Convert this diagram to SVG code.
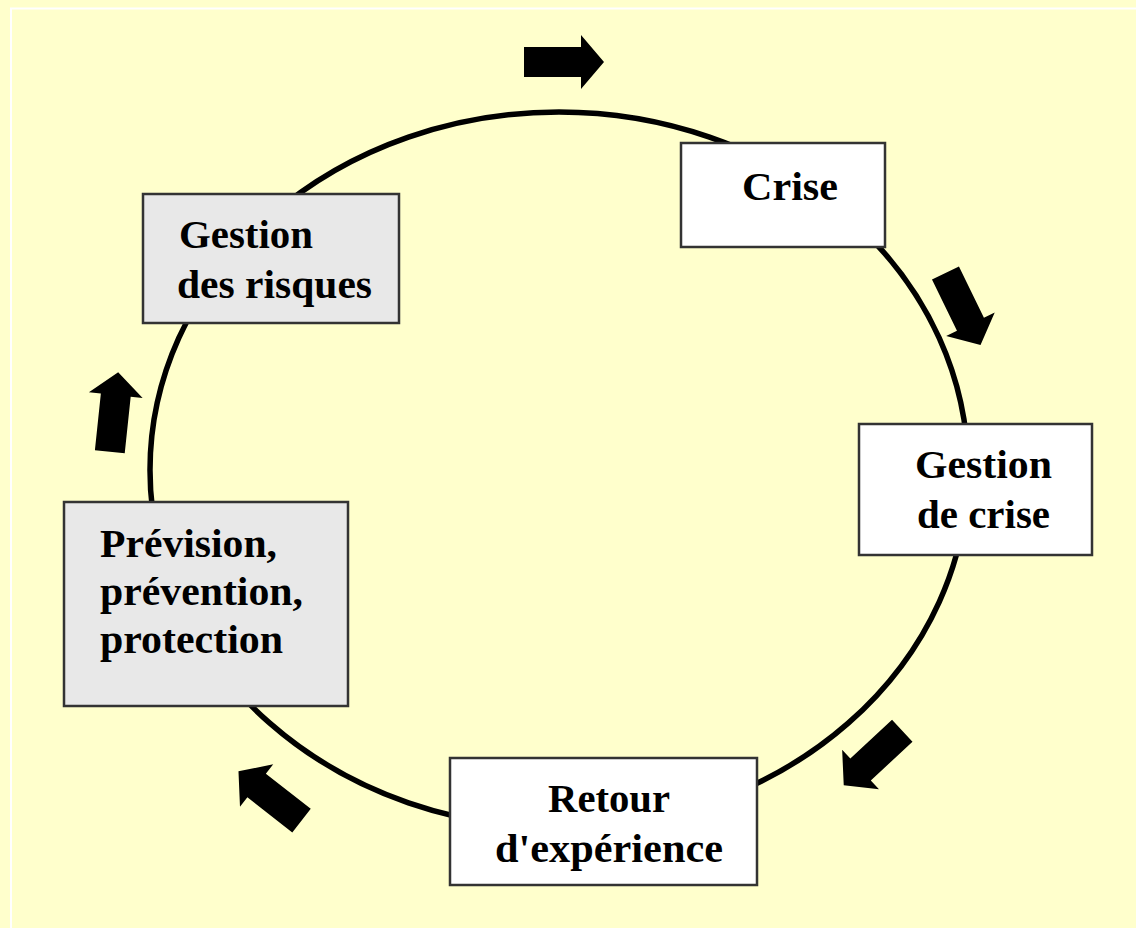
<svg xmlns="http://www.w3.org/2000/svg" width="1136" height="928" viewBox="0 0 1136 928">
  <style>
    .box { stroke: #333333; stroke-width: 2.5; }
    .white { fill: #FFFFFF; }
    .grey { fill: #E8E8E8; }
    .lbl { font-family: "Liberation Serif", "Times New Roman", serif; font-weight: bold; font-size: 39px; fill: #000000; }
    .arr { fill: #000000; }
  </style>
  <defs>
    <path id="blockArrow" d="M-40,-15 H17 V-27 L40,0 L17,27 V15 H-40 Z"/>
  </defs>
  <rect x="0" y="0" width="1136" height="928" fill="#FFFFCC"/>
  <path d="M11,928 V8.5 H1136" fill="none" stroke="#FFFFFF" stroke-width="2"/>

  <g id="connectors">
    <ellipse cx="559" cy="470" rx="409" ry="358" fill="none" stroke="#000000" stroke-width="5.5"/>
    <use href="#blockArrow" class="arr" transform="translate(564,62)"/>
    <use href="#blockArrow" class="arr" transform="translate(963,309) rotate(64)"/>
    <use href="#blockArrow" class="arr" transform="translate(873,758) rotate(137)"/>
    <use href="#blockArrow" class="arr" transform="translate(270,796) rotate(218)"/>
    <use href="#blockArrow" class="arr" transform="translate(114,412) rotate(-84)"/>
  </g>

  <g id="node-gestion-risques">
    <rect class="box grey" x="143" y="194" width="256" height="129"/>
    <text class="lbl" x="179" y="248" textLength="134" lengthAdjust="spacingAndGlyphs">Gestion</text>
    <text class="lbl" x="177" y="298" textLength="195" lengthAdjust="spacingAndGlyphs">des risques</text>
  </g>

  <g id="node-crise">
    <rect class="box white" x="681" y="143" width="204" height="104"/>
    <text class="lbl" x="742" y="200" textLength="96" lengthAdjust="spacingAndGlyphs">Crise</text>
  </g>

  <g id="node-gestion-crise">
    <rect class="box white" x="859" y="424" width="233" height="131"/>
    <text class="lbl" x="915" y="478" textLength="137" lengthAdjust="spacingAndGlyphs">Gestion</text>
    <text class="lbl" x="917" y="528" textLength="133" lengthAdjust="spacingAndGlyphs">de crise</text>
  </g>

  <g id="node-retour">
    <rect class="box white" x="450" y="758" width="307" height="127"/>
    <text class="lbl" x="548" y="812" textLength="122" lengthAdjust="spacingAndGlyphs">Retour</text>
    <text class="lbl" x="495" y="862" textLength="228" lengthAdjust="spacingAndGlyphs">d'expérience</text>
  </g>

  <g id="node-prevision">
    <rect class="box grey" x="64" y="502" width="284" height="204"/>
    <text class="lbl" x="100" y="557" textLength="177" lengthAdjust="spacingAndGlyphs">Prévision,</text>
    <text class="lbl" x="100" y="605" textLength="203" lengthAdjust="spacingAndGlyphs">prévention,</text>
    <text class="lbl" x="100" y="653" textLength="183" lengthAdjust="spacingAndGlyphs">protection</text>
  </g>
</svg>
